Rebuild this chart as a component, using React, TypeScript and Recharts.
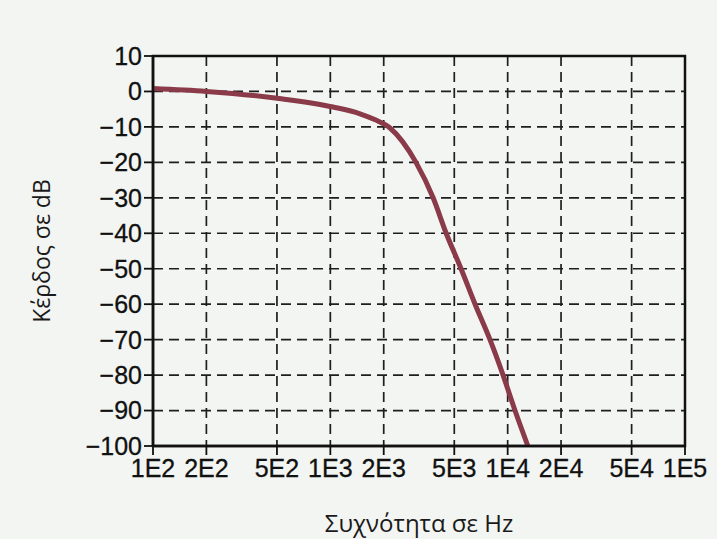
import React from "react";
import { LineChart, Line, XAxis, YAxis, CartesianGrid, ReferenceArea, Label } from "recharts";

const frequencies = [100, 200, 514, 1036, 1470, 1790, 2170, 3040, 3800, 4500, 5460, 6550, 7950, 9420, 11000, 13000];
const gains = [0.8, 0, -2, -4.4, -6.3, -8, -10.3, -20, -30, -40, -50, -60, -70, -80, -90, -100];
const xTicks = [100, 200, 500, 1000, 2000, 5000, 10000, 20000, 50000, 100000];
const xTickLabels = ["1E2", "2E2", "5E2", "1E3", "2E3", "5E3", "1E4", "2E4", "5E4", "1E5"];
const yTicks = [10, 0, -10, -20, -30, -40, -50, -60, -70, -80, -90, -100];

const data = frequencies.map((f, i) => ({ f, g: gains[i] }));

const fmtY = (v: number) => (v < 0 ? "\u2212" + Math.abs(v) : String(v));
const fmtX = (v: number) => {
  const i = xTicks.indexOf(v);
  return i >= 0 ? xTickLabels[i] : "";
};

const tickFont = {
  fontFamily: "'Liberation Sans', Arial, sans-serif",
  fontSize: 25,
  fill: "#111",
  stroke: "#111",
  strokeWidth: 0.3,
};

export default function App() {
  return (
    <div style={{ position: "fixed", left: 0, top: 0, width: 717, height: 539, background: "#f3f5f2" }}>
      <LineChart width={717} height={539} data={data} margin={{ top: 56, right: 32, left: 0, bottom: 0 }}>
        <CartesianGrid stroke="#1e1e1e" strokeWidth={1.7} strokeDasharray="10 6" />
        <XAxis
          dataKey="f"
          type="number"
          scale="log"
          domain={[100, 100000]}
          ticks={xTicks}
          tickFormatter={fmtX}
          interval={0}
          height={93}
          tickSize={9}
          tickMargin={4}
          axisLine={{ stroke: "#111", strokeWidth: 2.5 }}
          tickLine={{ stroke: "#111", strokeWidth: 1.8 }}
          tick={tickFont}
          allowDataOverflow
        >
          <Label
            value="Συχνότητα σε Hz"
            position="insideBottom"
            offset={7}
            style={{ fontFamily: "'Open Sans', sans-serif", fontSize: 24, fill: "#1a1a1a" }}
          />
        </XAxis>
        <YAxis
          type="number"
          domain={[-100, 10]}
          ticks={yTicks}
          tickFormatter={fmtY}
          interval={0}
          width={153}
          tickSize={9}
          tickMargin={2}
          axisLine={{ stroke: "#111", strokeWidth: 2.5 }}
          tickLine={{ stroke: "#111", strokeWidth: 1.8 }}
          tick={tickFont}
          allowDataOverflow
        >
          <Label
            value="Κέρδος σε dB"
            angle={-90}
            position="insideLeft"
            offset={42}
            style={{ textAnchor: "middle", fontFamily: "'Open Sans', sans-serif", fontSize: 23, fill: "#1a1a1a" }}
          />
        </YAxis>
        <ReferenceArea x1={100} x2={100000} y1={-100} y2={10} fill="none" stroke="#111" strokeWidth={2.5} />
        <Line
          type="monotone"
          dataKey="g"
          stroke="#8a3a48"
          strokeWidth={5}
          dot={false}
          isAnimationActive={false}
        />
      </LineChart>
    </div>
  );
}
